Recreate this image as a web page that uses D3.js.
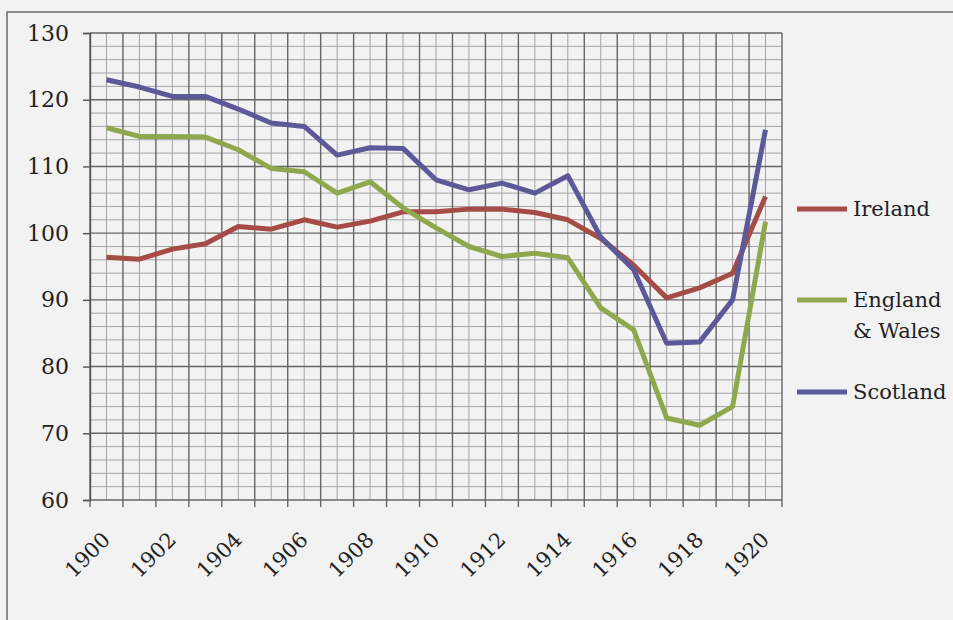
<!DOCTYPE html>
<html>
<head>
<meta charset="utf-8">
<script src="https://cdn.jsdelivr.net/npm/d3@7"></script>
<style>
  html, body { margin: 0; padding: 0; background: #f2f2f2; }
  svg { display: block; }
  text { font-family: "DejaVu Serif", "Liberation Serif", serif; fill: #222; }
</style>
</head>
<body>
<script>
const years = d3.range(1900, 1921).map(String);
const yearLabels = ['1900','1902','1904','1906','1908','1910','1912','1914','1916','1918','1920'];
const yTicks = [60, 70, 80, 90, 100, 110, 120, 130];

const ireland = [96.4, 96.1, 97.6, 98.4, 101.0, 100.6, 102.0, 100.9, 101.8, 103.2,
                 103.2, 103.6, 103.6, 103.1, 102.0, 99.2, 95.2, 90.3, 91.8, 94.0, 105.5];
const englandWales = [115.8, 114.5, 114.5, 114.4, 112.5, 109.7, 109.2, 106.0, 107.7, 103.8,
                      100.8, 98.0, 96.5, 97.0, 96.3, 88.8, 85.5, 72.3, 71.2, 74.0, 101.7];
const scotland = [123.0, 121.9, 120.5, 120.5, 118.6, 116.5, 116.0, 111.7, 112.8, 112.7,
                  108.0, 106.5, 107.5, 106.0, 108.6, 99.4, 94.5, 83.5, 83.7, 90.0, 115.5];

const seriesNames = ['Ireland', 'England & Wales', 'Scotland'];
const seriesValues = [ireland, englandWales, scotland];
const colors = ['#a54c47', '#8fa84e', '#5d5998'];

const width = 953, height = 620;
const margin = { top: 33, left: 90, right: 171, bottom: 120 };

const svg = d3.select(document.body).append('svg')
  .attr('width', width)
  .attr('height', height);

// outer frame (only top and left show in the picture)
svg.append('rect')
  .attr('x', 7).attr('y', 12)
  .attr('width', 960).attr('height', 630)
  .attr('fill', 'none')
  .attr('stroke', '#555')
  .attr('stroke-width', 1.3);

const x = d3.scaleBand()
  .domain(years)
  .range([margin.left, width - margin.right])
  .padding(0);

const y = d3.scaleLinear()
  .domain([60, 130])
  .range([height - margin.bottom, margin.top]);

const grid = svg.append('g').attr('class', 'grid');

// minor horizontal lines, every 2 units
grid.selectAll('line.hminor')
  .data(d3.range(62, 130, 2).filter(v => v % 10 !== 0))
  .enter().append('line')
  .attr('class', 'hminor')
  .attr('x1', x.range()[0]).attr('x2', x.range()[1])
  .attr('y1', d => y(d)).attr('y2', d => y(d))
  .attr('stroke', '#a4a4a4').attr('stroke-width', 1);

// minor vertical lines at category centres
grid.selectAll('line.vminor')
  .data(years)
  .enter().append('line')
  .attr('class', 'vminor')
  .attr('x1', d => x(d) + x.bandwidth() / 2).attr('x2', d => x(d) + x.bandwidth() / 2)
  .attr('y1', y(60)).attr('y2', y(130))
  .attr('stroke', '#a4a4a4').attr('stroke-width', 1);

// major vertical lines at category boundaries
const bounds = years.map(d => x(d)).concat([x.range()[1]]);
grid.selectAll('line.vmajor')
  .data(bounds)
  .enter().append('line')
  .attr('class', 'vmajor')
  .attr('x1', d => d).attr('x2', d => d)
  .attr('y1', y(130)).attr('y2', y(60) + 7)
  .attr('stroke', '#666').attr('stroke-width', 1.4);

// major horizontal lines
grid.selectAll('line.hmajor')
  .data(yTicks)
  .enter().append('line')
  .attr('class', 'hmajor')
  .attr('x1', x.range()[0]).attr('x2', x.range()[1])
  .attr('y1', d => y(d)).attr('y2', d => y(d))
  .attr('stroke', '#666').attr('stroke-width', 1.4);

// y axis
const yAxis = d3.axisLeft(y)
  .tickValues(yTicks)
  .tickSize(7)
  .tickPadding(14);

svg.append('g')
  .attr('class', 'axis axis--y')
  .attr('transform', `translate(${margin.left}, 0)`)
  .call(yAxis)
  .call(g => g.select('.domain').attr('stroke', '#555').attr('stroke-width', 1.4))
  .call(g => g.selectAll('.tick line').attr('stroke', '#555').attr('stroke-width', 1.4))
  .call(g => g.selectAll('.tick text')
    .attr('font-family', '"DejaVu Serif", serif')
    .attr('font-size', 22)
    .attr('fill', '#222'));

// x axis labels, rotated
svg.append('g')
  .attr('class', 'axis axis--x')
  .selectAll('text')
  .data(yearLabels)
  .enter().append('text')
  .attr('transform', d => `translate(${x(d) + x.bandwidth() / 2 + 5}, ${y(60) + 41}) rotate(-45)`)
  .attr('text-anchor', 'end')
  .attr('font-size', 21)
  .text(d => d);

// lines
const line = d3.line()
  .x((d, i) => x(years[i]) + x.bandwidth() / 2)
  .y(d => y(d));

svg.append('g')
  .attr('class', 'lines')
  .selectAll('path')
  .data(seriesValues)
  .enter().append('path')
  .attr('d', line)
  .attr('fill', 'none')
  .attr('stroke', (d, i) => colors[i])
  .attr('stroke-width', 5)
  .attr('stroke-linejoin', 'round');

// legend
const legendY = [209, 300, 392];
const legend = svg.append('g').attr('class', 'legend')
  .selectAll('g')
  .data(seriesNames)
  .enter().append('g')
  .attr('transform', (d, i) => `translate(797, ${legendY[i]})`);

legend.append('line')
  .attr('x1', 0).attr('x2', 50)
  .attr('stroke', (d, i) => colors[i])
  .attr('stroke-width', 5);

legend.append('text')
  .attr('x', 56)
  .attr('font-size', 21)
  .each(function(d) {
    const parts = d === 'England & Wales' ? ['England', '& Wales'] : [d];
    d3.select(this).selectAll('tspan')
      .data(parts)
      .enter().append('tspan')
      .attr('x', 56)
      .attr('dy', (p, j) => j === 0 ? '0.35em' : '1.45em')
      .text(p => p);
  });
</script>
</body>
</html>
